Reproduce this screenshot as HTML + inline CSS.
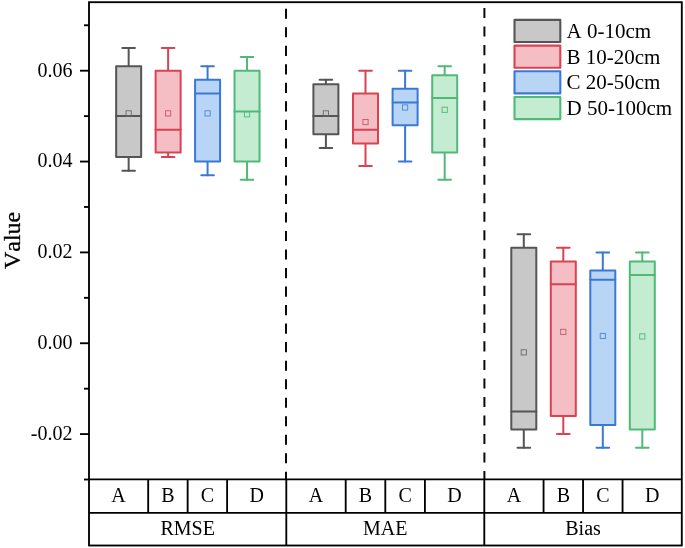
<!DOCTYPE html>
<html lang="en">
<head>
<meta charset="utf-8">
<title>Box plot: RMSE, MAE, Bias by soil depth</title>
<style>
html,body{margin:0;padding:0;background:#fff;}
body{width:685px;height:548px;overflow:hidden;font-family:"Liberation Serif","Times New Roman",serif;}
svg{display:block;will-change:transform;}
svg text{font-kerning:none;}
</style>
</head>
<body>
<svg width="685" height="548" viewBox="0 0 685 548">
<rect x="0" y="0" width="685" height="548" fill="#fff"/>
<g stroke="#555555" stroke-width="2.0" fill="none" stroke-linejoin="round" stroke-linecap="round">
<line x1="128.66" y1="47.99" x2="128.66" y2="66.16"/>
<line x1="128.66" y1="157.01" x2="128.66" y2="170.63"/>
<line x1="122.36" y1="47.99" x2="134.96" y2="47.99"/>
<line x1="122.36" y1="170.63" x2="134.96" y2="170.63"/>
<rect x="116.16" y="66.16" width="25.0" height="90.85" fill="#c8c8c8"/>
<line x1="116.16" y1="116.12" x2="141.16" y2="116.12"/>
<rect x="126.06" y="110.80" width="5.2" height="5.2" stroke="#6a6a6a" stroke-width="0.9" stroke-linejoin="miter"/>
</g>
<g stroke="#d94351" stroke-width="2.0" fill="none" stroke-linejoin="round" stroke-linecap="round">
<line x1="168.12" y1="47.99" x2="168.12" y2="70.70"/>
<line x1="168.12" y1="152.46" x2="168.12" y2="157.01"/>
<line x1="161.82" y1="47.99" x2="174.42" y2="47.99"/>
<line x1="161.82" y1="157.01" x2="174.42" y2="157.01"/>
<rect x="155.62" y="70.70" width="25.0" height="81.76" fill="#f5bec4"/>
<line x1="155.62" y1="129.75" x2="180.62" y2="129.75"/>
<rect x="165.52" y="110.80" width="5.2" height="5.2" stroke="#c25a68" stroke-width="0.9" stroke-linejoin="miter"/>
</g>
<g stroke="#3a78d8" stroke-width="2.0" fill="none" stroke-linejoin="round" stroke-linecap="round">
<line x1="207.58" y1="66.16" x2="207.58" y2="79.78"/>
<line x1="207.58" y1="161.55" x2="207.58" y2="175.18"/>
<line x1="201.28" y1="66.16" x2="213.88" y2="66.16"/>
<line x1="201.28" y1="175.18" x2="213.88" y2="175.18"/>
<rect x="195.08" y="79.78" width="25.0" height="81.77" fill="#b9d5f6"/>
<line x1="195.08" y1="93.41" x2="220.08" y2="93.41"/>
<rect x="204.98" y="110.80" width="5.2" height="5.2" stroke="#4f83cf" stroke-width="0.9" stroke-linejoin="miter"/>
</g>
<g stroke="#50b978" stroke-width="2.0" fill="none" stroke-linejoin="round" stroke-linecap="round">
<line x1="247.04" y1="57.07" x2="247.04" y2="70.70"/>
<line x1="247.04" y1="161.55" x2="247.04" y2="179.72"/>
<line x1="240.74" y1="57.07" x2="253.34" y2="57.07"/>
<line x1="240.74" y1="179.72" x2="253.34" y2="179.72"/>
<rect x="234.54" y="70.70" width="25.0" height="90.85" fill="#c3ecd1"/>
<line x1="234.54" y1="111.58" x2="259.54" y2="111.58"/>
<rect x="244.44" y="111.71" width="5.2" height="5.2" stroke="#55b47c" stroke-width="0.9" stroke-linejoin="miter"/>
</g>
<g stroke="#555555" stroke-width="2.0" fill="none" stroke-linejoin="round" stroke-linecap="round">
<line x1="325.90" y1="79.78" x2="325.90" y2="84.33"/>
<line x1="325.90" y1="134.30" x2="325.90" y2="147.92"/>
<line x1="319.60" y1="79.78" x2="332.20" y2="79.78"/>
<line x1="319.60" y1="147.92" x2="332.20" y2="147.92"/>
<rect x="313.40" y="84.33" width="25.0" height="49.97" fill="#c8c8c8"/>
<line x1="313.40" y1="116.12" x2="338.40" y2="116.12"/>
<rect x="323.30" y="110.80" width="5.2" height="5.2" stroke="#6a6a6a" stroke-width="0.9" stroke-linejoin="miter"/>
</g>
<g stroke="#d94351" stroke-width="2.0" fill="none" stroke-linejoin="round" stroke-linecap="round">
<line x1="365.50" y1="70.70" x2="365.50" y2="93.41"/>
<line x1="365.50" y1="143.38" x2="365.50" y2="166.09"/>
<line x1="359.20" y1="70.70" x2="371.80" y2="70.70"/>
<line x1="359.20" y1="166.09" x2="371.80" y2="166.09"/>
<rect x="353.00" y="93.41" width="25.0" height="49.97" fill="#f5bec4"/>
<line x1="353.00" y1="129.75" x2="378.00" y2="129.75"/>
<rect x="362.90" y="119.43" width="5.2" height="5.2" stroke="#c25a68" stroke-width="0.9" stroke-linejoin="miter"/>
</g>
<g stroke="#3a78d8" stroke-width="2.0" fill="none" stroke-linejoin="round" stroke-linecap="round">
<line x1="405.10" y1="70.70" x2="405.10" y2="88.87"/>
<line x1="405.10" y1="125.21" x2="405.10" y2="161.55"/>
<line x1="398.80" y1="70.70" x2="411.40" y2="70.70"/>
<line x1="398.80" y1="161.55" x2="411.40" y2="161.55"/>
<rect x="392.60" y="88.87" width="25.0" height="36.34" fill="#b9d5f6"/>
<line x1="392.60" y1="102.50" x2="417.60" y2="102.50"/>
<rect x="402.50" y="104.89" width="5.2" height="5.2" stroke="#4f83cf" stroke-width="0.9" stroke-linejoin="miter"/>
</g>
<g stroke="#50b978" stroke-width="2.0" fill="none" stroke-linejoin="round" stroke-linecap="round">
<line x1="444.70" y1="66.16" x2="444.70" y2="75.24"/>
<line x1="444.70" y1="152.46" x2="444.70" y2="179.72"/>
<line x1="438.40" y1="66.16" x2="451.00" y2="66.16"/>
<line x1="438.40" y1="179.72" x2="451.00" y2="179.72"/>
<rect x="432.20" y="75.24" width="25.0" height="77.22" fill="#c3ecd1"/>
<line x1="432.20" y1="97.96" x2="457.20" y2="97.96"/>
<rect x="442.10" y="107.17" width="5.2" height="5.2" stroke="#55b47c" stroke-width="0.9" stroke-linejoin="miter"/>
</g>
<g stroke="#555555" stroke-width="2.0" fill="none" stroke-linejoin="round" stroke-linecap="round">
<line x1="523.80" y1="234.23" x2="523.80" y2="247.86"/>
<line x1="523.80" y1="429.56" x2="523.80" y2="447.73"/>
<line x1="517.50" y1="234.23" x2="530.10" y2="234.23"/>
<line x1="517.50" y1="447.73" x2="530.10" y2="447.73"/>
<rect x="511.30" y="247.86" width="25.0" height="181.70" fill="#c8c8c8"/>
<line x1="511.30" y1="411.39" x2="536.30" y2="411.39"/>
<rect x="521.20" y="349.73" width="5.2" height="5.2" stroke="#6a6a6a" stroke-width="0.9" stroke-linejoin="miter"/>
</g>
<g stroke="#d94351" stroke-width="2.0" fill="none" stroke-linejoin="round" stroke-linecap="round">
<line x1="563.30" y1="247.86" x2="563.30" y2="261.49"/>
<line x1="563.30" y1="415.93" x2="563.30" y2="434.10"/>
<line x1="557.00" y1="247.86" x2="569.60" y2="247.86"/>
<line x1="557.00" y1="434.10" x2="569.60" y2="434.10"/>
<rect x="550.80" y="261.49" width="25.0" height="154.44" fill="#f5bec4"/>
<line x1="550.80" y1="284.20" x2="575.80" y2="284.20"/>
<rect x="560.70" y="329.29" width="5.2" height="5.2" stroke="#c25a68" stroke-width="0.9" stroke-linejoin="miter"/>
</g>
<g stroke="#3a78d8" stroke-width="2.0" fill="none" stroke-linejoin="round" stroke-linecap="round">
<line x1="602.80" y1="252.40" x2="602.80" y2="270.57"/>
<line x1="602.80" y1="425.01" x2="602.80" y2="447.73"/>
<line x1="596.50" y1="252.40" x2="609.10" y2="252.40"/>
<line x1="596.50" y1="447.73" x2="609.10" y2="447.73"/>
<rect x="590.30" y="270.57" width="25.0" height="154.44" fill="#b9d5f6"/>
<line x1="590.30" y1="279.65" x2="615.30" y2="279.65"/>
<rect x="600.20" y="333.38" width="5.2" height="5.2" stroke="#4f83cf" stroke-width="0.9" stroke-linejoin="miter"/>
</g>
<g stroke="#50b978" stroke-width="2.0" fill="none" stroke-linejoin="round" stroke-linecap="round">
<line x1="642.30" y1="252.40" x2="642.30" y2="261.49"/>
<line x1="642.30" y1="429.56" x2="642.30" y2="447.73"/>
<line x1="636.00" y1="252.40" x2="648.60" y2="252.40"/>
<line x1="636.00" y1="447.73" x2="648.60" y2="447.73"/>
<rect x="629.80" y="261.49" width="25.0" height="168.07" fill="#c3ecd1"/>
<line x1="629.80" y1="275.11" x2="654.80" y2="275.11"/>
<rect x="639.70" y="333.84" width="5.2" height="5.2" stroke="#55b47c" stroke-width="0.9" stroke-linejoin="miter"/>
</g>
<line x1="286.00" y1="2.2" x2="286.00" y2="479.4" stroke="#0a0a0a" stroke-width="2.0" stroke-dasharray="10.1 8.42" stroke-dashoffset="11.97"/>
<line x1="484.40" y1="2.2" x2="484.40" y2="479.4" stroke="#0a0a0a" stroke-width="2.0" stroke-dasharray="10.1 8.42" stroke-dashoffset="12.72"/>
<g stroke="#000" stroke-width="1.85" fill="none" stroke-linecap="butt">
<rect x="89.0" y="2.2" width="592.8" height="543.3"/>
<line x1="89.0" y1="479.4" x2="681.8" y2="479.4"/>
<line x1="89.0" y1="512.8" x2="681.8" y2="512.8"/>
<line x1="286.30" y1="479.4" x2="286.30" y2="545.5"/>
<line x1="484.30" y1="479.4" x2="484.30" y2="545.5"/>
<line x1="148.19" y1="479.4" x2="148.19" y2="512.8"/>
<line x1="187.65" y1="479.4" x2="187.65" y2="512.8"/>
<line x1="227.11" y1="479.4" x2="227.11" y2="512.8"/>
<line x1="345.70" y1="479.4" x2="345.70" y2="512.8"/>
<line x1="385.30" y1="479.4" x2="385.30" y2="512.8"/>
<line x1="424.90" y1="479.4" x2="424.90" y2="512.8"/>
<line x1="543.55" y1="479.4" x2="543.55" y2="512.8"/>
<line x1="583.05" y1="479.4" x2="583.05" y2="512.8"/>
<line x1="622.55" y1="479.4" x2="622.55" y2="512.8"/>
<line x1="84.0" y1="479.52" x2="89.0" y2="479.52"/>
<line x1="80.0" y1="434.10" x2="89.0" y2="434.10"/>
<line x1="84.0" y1="388.68" x2="89.0" y2="388.68"/>
<line x1="80.0" y1="343.25" x2="89.0" y2="343.25"/>
<line x1="84.0" y1="297.82" x2="89.0" y2="297.82"/>
<line x1="80.0" y1="252.40" x2="89.0" y2="252.40"/>
<line x1="84.0" y1="206.97" x2="89.0" y2="206.97"/>
<line x1="80.0" y1="161.55" x2="89.0" y2="161.55"/>
<line x1="84.0" y1="116.12" x2="89.0" y2="116.12"/>
<line x1="80.0" y1="70.70" x2="89.0" y2="70.70"/>
<line x1="84.0" y1="25.27" x2="89.0" y2="25.27"/>
</g>
<g font-family="Liberation Serif, Times New Roman, serif" font-size="20" fill="#000" text-anchor="end">
<text x="72.5" y="76.50">0.06</text>
<text x="72.5" y="167.35">0.04</text>
<text x="72.5" y="258.20">0.02</text>
<text x="72.5" y="349.05">0.00</text>
<text x="72.5" y="439.90">-0.02</text>
</g>
<text font-family="Liberation Serif, Times New Roman, serif" font-size="23.9" fill="#000" stroke="#000" stroke-width="0.3" text-anchor="middle" transform="translate(20.0,240.4) rotate(-90)">Value</text>
<g font-family="Liberation Serif, Times New Roman, serif" font-size="20" fill="#000" text-anchor="middle">
<text x="118.59" y="502.2">A</text>
<text x="167.92" y="502.2">B</text>
<text x="207.38" y="502.2">C</text>
<text x="256.71" y="502.2">D</text>
<text x="187.65" y="535.4">RMSE</text>
<text x="316.00" y="502.2">A</text>
<text x="365.50" y="502.2">B</text>
<text x="405.10" y="502.2">C</text>
<text x="454.60" y="502.2">D</text>
<text x="385.30" y="535.4">MAE</text>
<text x="513.92" y="502.2">A</text>
<text x="563.30" y="502.2">B</text>
<text x="602.80" y="502.2">C</text>
<text x="652.17" y="502.2">D</text>
<text x="583.05" y="535.4">Bias</text>
</g>
<g font-family="Liberation Serif, Times New Roman, serif" font-size="21" fill="#000">
<rect x="514.5" y="19.90" width="45.8" height="22.1" fill="#c8c8c8" stroke="#555555" stroke-width="2.1" stroke-linejoin="round"/>
<text x="566.5" y="37.90">A 0-10cm</text>
<rect x="514.5" y="45.60" width="45.8" height="22.1" fill="#f5bec4" stroke="#d94351" stroke-width="2.1" stroke-linejoin="round"/>
<text x="566.5" y="63.57">B 10-20cm</text>
<rect x="514.5" y="71.30" width="45.8" height="22.1" fill="#b9d5f6" stroke="#3a78d8" stroke-width="2.1" stroke-linejoin="round"/>
<text x="566.5" y="89.24">C 20-50cm</text>
<rect x="514.5" y="97.00" width="45.8" height="22.1" fill="#c3ecd1" stroke="#50b978" stroke-width="2.1" stroke-linejoin="round"/>
<text x="566.5" y="114.91">D 50-100cm</text>
</g>
</svg>
</body>
</html>
